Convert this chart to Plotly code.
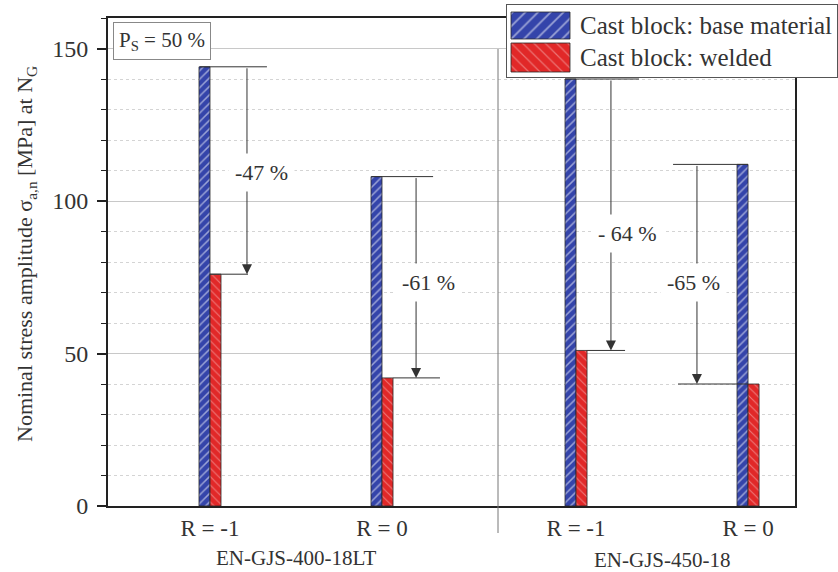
import plotly.graph_objects as go

# ---------------- data ----------------
groups = ["EN-GJS-400-18LT", "EN-GJS-450-18"]
ratio_labels = ["R = -1", "R = 0", "R = -1", "R = 0"]
group_of_cat = [0, 0, 1, 1]
series_names = ["Cast block: base material", "Cast block: welded"]
base_material = [144, 108, 140, 112]
welded = [76, 42, 51, 40]
reduction_labels = ["-47 %", "-61 %", "- 64 %", "-65 %"]
y_ticks = [0, 50, 100, 150]
ps_label = "P<sub>S</sub> = 50 %"
y_title = "Nominal stress amplitude σ<sub>a,n</sub> [MPa] at N<sub>G</sub>"

# ---------------- layout / style ----------------
W, H = 838, 572
FONT = "Liberation Serif, Times New Roman, serif"
TXT = "#333333"
BLUE = "#3444aa"
RED = "#e12828"
EDGE = "#2a2a2a"

cat_pos = [0, 1, 2.128, 3.128]          # category slots on the x axis
bar_w = 0.064
x_range = [-0.593, 3.401]
y_range = [0, 160]

# annotation geometry relative to category slot (x units)
vline_off = [0.215, 0.198, 0.203, -0.297]
top_ext = [(-0.058, 0.331), (-0.058, 0.297), (-0.064, 0.366), (-0.436, 0.0)]
bot_ext = [(0.0, 0.221), (0.064, 0.337), (0.064, 0.285), (-0.407, 0.0)]
text_off = [0.30, 0.273, 0.302, -0.32]
text_y = [109.2, 73.4, 89.5, 73.4]


def px(x):
    return x / W


def py(y):
    return 1 - y / H


fig = go.Figure()

fig.add_trace(go.Bar(
    x=cat_pos, y=base_material, name=series_names[0], width=bar_w, offset=-bar_w,
    marker=dict(color=BLUE, line=dict(color=EDGE, width=0.8),
                pattern=dict(shape="/", fgcolor="white", size=6, solidity=0.25)),
    showlegend=False, xaxis="x", yaxis="y"))
fig.add_trace(go.Bar(
    x=cat_pos, y=welded, name=series_names[1], width=bar_w, offset=0,
    marker=dict(color=RED, line=dict(color=EDGE, width=0.8),
                pattern=dict(shape="\\", fgcolor="rgba(255,255,255,0.75)", size=6, solidity=0.18)),
    showlegend=False, xaxis="x", yaxis="y"))

# custom legend swatches (own small subplot)
fig.add_trace(go.Bar(
    y=[20.5], x=[59], base=[4], width=[27], orientation="h",
    marker=dict(color=BLUE, line=dict(color=EDGE, width=0.8),
                pattern=dict(shape="/", fgcolor="white", size=9, solidity=0.2)),
    showlegend=False, xaxis="x2", yaxis="y2", hoverinfo="skip"))
fig.add_trace(go.Bar(
    y=[52.5], x=[59], base=[4], width=[29], orientation="h",
    marker=dict(color=RED, line=dict(color=EDGE, width=0.8),
                pattern=dict(shape="\\", fgcolor="rgba(255,255,255,0.7)", size=8, solidity=0.15)),
    showlegend=False, xaxis="x2", yaxis="y2", hoverinfo="skip"))

shapes = []
annotations = []

# legend box background
shapes.append(dict(type="rect", xref="x2 domain", yref="y2 domain", x0=0, x1=1, y0=0, y1=1,
                   fillcolor="white", line=dict(width=0), layer="below"))
for i, name in enumerate(series_names):
    annotations.append(dict(x=px(578), y=py(25 + 32 * i), xref="paper", yref="paper",
                            text=name, showarrow=False, xanchor="left", yanchor="middle",
                            font=dict(family=FONT, size=25, color=TXT)))

# group divider
shapes.append(dict(type="line", xref="paper", yref="paper", x0=px(498), x1=px(498),
                   y0=py(49), y1=py(533), line=dict(color="#777777", width=1)))

# reduction arrows
for i in range(len(cat_pos)):
    c = cat_pos[i]
    xv = c + vline_off[i]
    shapes.append(dict(type="line", xref="x", yref="y", x0=c + top_ext[i][0], x1=c + top_ext[i][1],
                       y0=base_material[i], y1=base_material[i], line=dict(color="#333333", width=1)))
    shapes.append(dict(type="line", xref="x", yref="y", x0=c + bot_ext[i][0], x1=c + bot_ext[i][1],
                       y0=welded[i], y1=welded[i], line=dict(color="#333333", width=1)))
    annotations.append(dict(x=xv, y=welded[i], ax=xv, ay=base_material[i], xref="x", yref="y",
                            axref="x", ayref="y", text="", showarrow=True, arrowhead=2,
                            arrowsize=2, arrowwidth=1, arrowcolor="#333333", standoff=0))
    annotations.append(dict(x=c + text_off[i], y=text_y[i], xref="x", yref="y",
                            text=reduction_labels[i], showarrow=False, bgcolor="white",
                            borderpad=6, font=dict(family=FONT, size=22, color=TXT)))

# group labels
group_y = [py(558), py(560)]
for g, gname in enumerate(groups):
    members = [cat_pos[k] for k in range(len(cat_pos)) if group_of_cat[k] == g]
    annotations.append(dict(x=sum(members) / len(members), y=group_y[g], xref="x", yref="paper",
                            text=gname, showarrow=False, xanchor="center", yanchor="middle",
                            font=dict(family=FONT, size=21, color=TXT)))

# P_S box
annotations.append(dict(x=px(113), y=py(22), xref="paper", yref="paper", text=ps_label,
                        showarrow=False, xanchor="left", yanchor="top", bgcolor="white",
                        bordercolor="#888888", borderwidth=1, borderpad=5,
                        font=dict(family=FONT, size=21, color=TXT)))

# y axis title
annotations.append(dict(x=px(26), y=py(254), xref="paper", yref="paper", text=y_title,
                        showarrow=False, textangle=-90, xanchor="center", yanchor="middle",
                        font=dict(family=FONT, size=22, color=TXT)))

fig.update_layout(
    width=W, height=H,
    margin=dict(l=0, r=0, t=0, b=0),
    paper_bgcolor="white", plot_bgcolor="white",
    barmode="overlay",
    showlegend=False,
    font=dict(family=FONT, color=TXT),
    xaxis=dict(domain=[px(108), px(795)], range=x_range, tickvals=cat_pos, ticktext=ratio_labels,
               ticks="", showgrid=False, zeroline=False, showline=True, mirror=True,
               linecolor="#222222", linewidth=2, automargin=False, ticklabelstandoff=0,
               tickfont=dict(family=FONT, size=23, color=TXT), anchor="y"),
    yaxis=dict(domain=[1 - 506 / H, 1 - 18 / H], range=y_range, tickvals=y_ticks,
               ticks="outside", ticklen=9, tickwidth=1.5, tickcolor="#222222",
               showgrid=True, gridcolor="#c8c8c8", gridwidth=1,
               minor=dict(dtick=10, tick0=0, ticks="outside", ticklen=5, tickwidth=1,
                          tickcolor="#222222", showgrid=True, gridcolor="#d4d4d4", griddash="dot"),
               zeroline=False, showline=True, mirror=True, linecolor="#222222", linewidth=2,
               automargin=False, ticklabelstandoff=4,
               tickfont=dict(family=FONT, size=24, color=TXT), anchor="x"),
    xaxis2=dict(domain=[px(507), px(837)], range=[0, 330], showgrid=False, zeroline=False,
                showticklabels=False, ticks="", showline=True, mirror=True, linecolor="#555555",
                linewidth=1, anchor="y2", fixedrange=True),
    yaxis2=dict(domain=[py(77), py(5)], range=[72, 0], showgrid=False, zeroline=False,
                showticklabels=False, ticks="", showline=True, mirror=True, linecolor="#555555",
                linewidth=1, anchor="x2", fixedrange=True),
    shapes=shapes,
    annotations=annotations,
)

fig.write_html("out.html", config={"displayModeBar": False},
               post_script="document.body.style.margin='0';document.body.style.overflow='hidden';")
